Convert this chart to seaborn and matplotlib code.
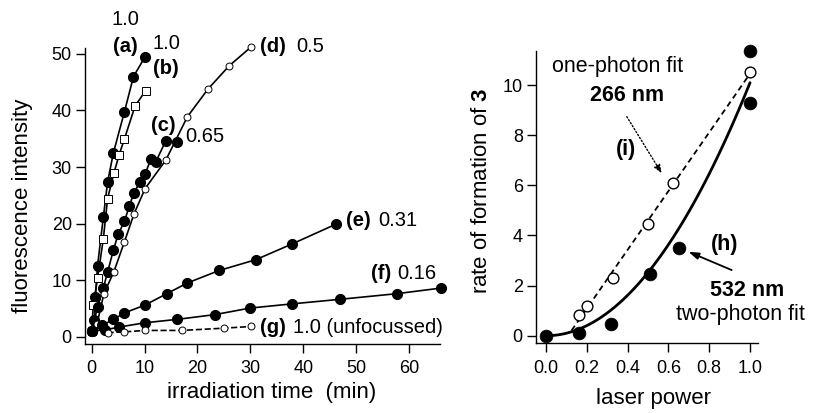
import numpy as np
import pandas as pd
import matplotlib
matplotlib.use("Agg")
import matplotlib.pyplot as plt
import seaborn as sns

# left panel: fluorescence vs irradiation time, one series per laser condition
a_t = [0, 0.5, 0.7, 1.1, 2.2, 3.0, 4.1, 6.2, 7.9, 10.1]
a_f = [1.0, 3.0, 7.0, 12.5, 21.1, 27.3, 32.5, 39.8, 46.0, 49.5]
b_t = [0, 0.3, 1.1, 2.2, 3.0, 4.2, 5.2, 6.2, 8.2, 10.2]
b_f = [1.0, 5.6, 10.3, 17.3, 24.4, 28.9, 32.2, 35.0, 40.8, 43.5]
c_t = [0, 1.1, 2.2, 3.0, 4.1, 5.0, 6.2, 7.1, 8.0, 9.1, 10.1, 11.2, 12.1, 14.0, 16.1]
c_f = [1.0, 5.2, 8.6, 11.4, 15.3, 18.1, 20.4, 23.1, 25.4, 27.4, 28.7, 31.5, 30.9, 34.6, 34.4]
d_t = [0, 1.0, 2.3, 4.2, 6.2, 8.0, 10.1, 14.0, 18.1, 22.0, 26.0, 30.1]
d_f = [1.0, 2.2, 7.6, 11.5, 16.8, 21.7, 26.2, 31.2, 38.9, 43.8, 47.9, 51.2]
e_t = [0, 2.0, 4.1, 6.2, 10.1, 14.2, 18.1, 24.1, 31.0, 37.9, 46.2]
e_f = [1.0, 2.0, 3.05, 4.2, 5.6, 7.6, 9.5, 11.7, 13.6, 16.4, 19.9]
f_t = [0, 2.5, 5.2, 10.0, 16.1, 23.3, 29.9, 37.9, 46.9, 57.7, 66.1]
f_f = [1.0, 1.2, 1.7, 2.45, 3.05, 3.9, 5.05, 5.8, 6.6, 7.6, 8.6]
g_t = [3.0, 6.2, 10.1, 17.0, 25.0, 30.1]
g_f = [0.7, 0.85, 1.1, 1.1, 1.5, 1.8]

# right panel: rate of formation of 3 vs laser power
p266 = [0.16, 0.20, 0.33, 0.50, 0.62, 1.00]
r266 = [0.83, 1.18, 2.29, 4.44, 6.10, 10.53]
p532 = [0.0, 0.16, 0.32, 0.51, 0.65, 1.00, 1.00]
r532 = [0.0, 0.12, 0.47, 2.45, 3.49, 11.36, 9.27]

sns.set_style("ticks")
plt.rcParams["font.family"] = ["Liberation Sans", "DejaVu Sans"]
plt.rcParams["mathtext.fontset"] = "custom"
plt.rcParams["mathtext.rm"] = "Liberation Sans"
plt.rcParams["mathtext.bf"] = "Liberation Sans:bold"
plt.rcParams["xtick.direction"] = "out"
plt.rcParams["ytick.direction"] = "out"
for key in ("text.color", "axes.labelcolor", "xtick.color", "ytick.color"):
    plt.rcParams[key] = "black"

fig = plt.figure(figsize=(8.14, 4.13), dpi=100)
ax1 = fig.add_axes([0.1044, 0.1680, 0.4361, 0.7165])
ax2 = fig.add_axes([0.6585, 0.1695, 0.2727, 0.7070])

filled = dict(marker="o", markersize=7.2, markerfacecolor="black",
              markeredgecolor="black", markeredgewidth=0.8)
hollow = dict(marker="o", markersize=5.0, markerfacecolor="white",
              markeredgecolor="black", markeredgewidth=0.7)
square = dict(marker="s", markersize=5.4, markerfacecolor="white",
              markeredgecolor="black", markeredgewidth=0.7)

series = [
    (a_t, a_f, filled, "-"),
    (b_t, b_f, square, "-"),
    (c_t, c_f, filled, "-"),
    (d_t, d_f, hollow, "-"),
    (e_t, e_f, filled, "-"),
    (f_t, f_f, filled, "-"),
    (g_t, g_f, hollow, "--"),
]
for t, f, mk, ls in series:
    df = pd.DataFrame({"t": t, "f": f})
    sns.lineplot(data=df, x="t", y="f", ax=ax1, sort=False, estimator=None,
                 color="black", linewidth=1.2, linestyle=ls, clip_on=False, **mk)

ax1.set_xlim(-1.27, 65.85)
ax1.set_ylim(-1.23, 51.1)
ax1.set_xticks(range(0, 61, 10))
ax1.set_yticks(range(0, 51, 10))
ax1.set_xlabel("irradiation time  (min)", fontsize=16)
ax1.set_ylabel("fluorescence intensity", fontsize=16)
ax1.xaxis.set_label_coords(0.526, -0.13)
ax1.yaxis.set_label_coords(-0.146, 0.465)

fs = 14.5
lbl = dict(fontsize=fs, ha="center", va="center", clip_on=False)
ax1.text(6.3, 56.0, "1.0", **lbl)
ax1.text(6.3, 51.4, "(a)", fontweight="bold", **lbl)
ax1.text(14.2, 51.9, "1.0", **lbl)
ax1.text(14.0, 47.4, "(b)", fontweight="bold", **lbl)
ax1.text(34.3, 51.3, "(d)", fontweight="bold", **lbl)
ax1.text(41.3, 51.3, "0.5", **lbl)
ax1.text(13.5, 37.3, "(c)", fontweight="bold", **lbl)
ax1.text(21.4, 35.4, "0.65", **lbl)
ax1.text(50.5, 20.5, "(e)", fontweight="bold", **lbl)
ax1.text(57.9, 20.5, "0.31", **lbl)
ax1.text(54.8, 11.1, "(f)", fontweight="bold", **lbl)
ax1.text(61.4, 11.1, "0.16", **lbl)
ax1.text(34.2, 1.7, "(g)", fontweight="bold", **lbl)
ax1.text(38.1, 1.7, "1.0 (unfocussed)", fontsize=fs, ha="left", va="center",
         clip_on=False)

# right panel: points and fits
d266 = pd.DataFrame({"p": p266, "r": r266})
d532 = pd.DataFrame({"p": p532, "r": r532})

slope, icpt = np.polyfit(p266, r266, 1)
px = np.array(p532)
k2 = np.sum(px ** 2 * np.array(r532)) / np.sum(px ** 4)
xl = np.linspace(0.125, 1.0, 50)
xq = np.linspace(0.0, 1.0, 100)
ax2.plot(xl, slope * xl + icpt, color="black", linestyle=(0, (3.2, 2.2)), linewidth=1.3)
ax2.plot(xq, k2 * xq ** 2, color="black", linewidth=2.0)

sns.scatterplot(data=d532, x="p", y="r", ax=ax2, color="black", s=85,
                edgecolor="black", linewidth=0.5, clip_on=False, zorder=3)
sns.scatterplot(data=d266, x="p", y="r", ax=ax2, facecolor="white", s=60,
                edgecolor="black", linewidth=1.0, clip_on=False, zorder=4)

ax2.set_xlim(-0.049, 1.039)
ax2.set_ylim(-0.29, 11.36)
ax2.set_xticks(np.arange(0, 1.01, 0.2))
ax2.set_xticklabels(["0.0", "0.2", "0.4", "0.6", "0.8", "1.0"])
ax2.set_yticks(range(0, 11, 2))
ax2.set_xlabel("laser power", fontsize=16)
ax2.set_ylabel(r"rate of formation of $\mathbf{3}$", fontsize=16)
ax2.xaxis.set_label_coords(0.527, -0.155)
ax2.yaxis.set_label_coords(-0.198, 0.52)

fr = 15.5
ax2.text(0.028, 10.73, "one-photon fit", fontsize=fr, ha="left", va="center")
ax2.text(0.396, 9.57, "266 nm", fontsize=fr, fontweight="bold", ha="center", va="center")
ax2.text(0.391, 7.45, "(i)", fontsize=fr, fontweight="bold", ha="center", va="center")
ax2.text(0.877, 3.62, "(h)", fontsize=fr, fontweight="bold", ha="center", va="center")
ax2.text(0.984, 1.82, "532 nm", fontsize=fr, fontweight="bold", ha="center", va="center",
         clip_on=False)
ax2.text(1.27, 0.83, "two-photon fit", fontsize=fr, ha="right", va="center", clip_on=False)
ax2.annotate("", xy=(0.567, 6.48), xytext=(0.396, 8.74),
             arrowprops=dict(arrowstyle="-|>,head_length=0.5,head_width=0.2",
                             linestyle=(0, (1, 1.5)), color="black", lw=1.0,
                             shrinkA=0, shrinkB=0))
ax2.annotate("", xy=(0.698, 3.35), xytext=(0.91, 2.62),
             arrowprops=dict(arrowstyle="-|>,head_length=0.6,head_width=0.2",
                             color="black", lw=1.3, shrinkA=0, shrinkB=0))

for ax in (ax1, ax2):
    sns.despine(ax=ax)
    ax.tick_params(labelsize=13, length=6.5, width=1, color="black")
    ax.tick_params(axis="x", pad=5.5)
    ax.tick_params(axis="y", pad=3)
    for sp in ("left", "bottom"):
        ax.spines[sp].set_color("black")
        ax.spines[sp].set_linewidth(1.0)

fig.savefig("out.png", dpi=100)
